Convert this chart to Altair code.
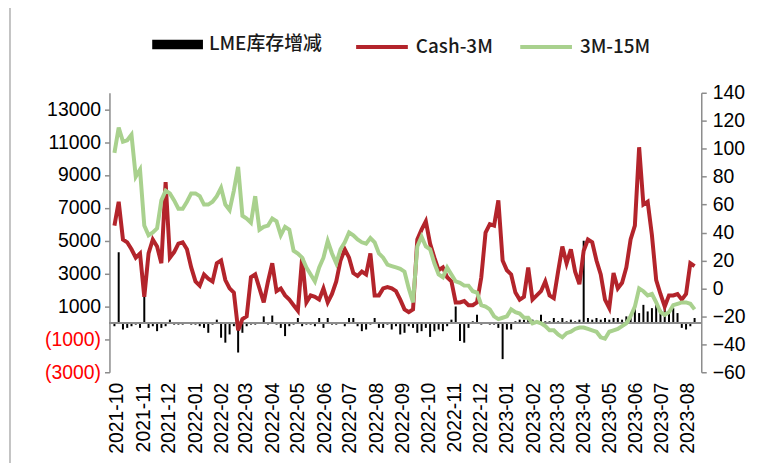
import altair as alt
import pandas as pd

# ---- data (5-day sampling) ----
start_date = "2021-09-28"
cash_3m = [45, 62, 35, 33, 28, 22, 25, -6, 25, 35,
           30, 18, 76, 22, 26, 32, 33, 28, 15, 5,
           2, 10, 7, 5, 18, 20, 6, 0, -3, -30,
           -22, -20, 8, 10, 0, -10, 5, 18, -2, 0,
           -5, -8, -12, -16, 22, -10, -5, -6, -8, 0,
           -10, -4, 5, 20, 28, 22, 11, 9, 12, 10,
           25, -5, -5, 0, 1, 0, -2, -8, -15, -17,
           -15, 35, 42, 48, 32, 22, 13, 15, 8, 5,
           -10, -10, -9, -12, -12, -10, 8, 40, 46, 45,
           63, 20, 13, 10, -3, -8, -6, 15, -8, -5,
           -2, 5, -5, -7, 12, 30, 18, 28, 12, 3,
           27, 35, 33, 20, 10, -8, -14, 11, 0, 4,
           15, 35, 45, 101, 60, 62, 38, 6, -4, -13,
           -5, -5, -4, -8, -4, 18, 16]
m3_15m = [97, 115, 105, 106, 110, 80, 85, 45, 38, 40,
          43, 63, 70, 68, 63, 57, 57, 62, 68, 68,
          66, 60, 60, 62, 66, 72, 60, 56, 70, 87,
          52, 50, 47, 66, 42, 44, 45, 50, 48, 38,
          44, 42, 27, 25, 22, 15, 10, 5, 15, 22,
          34, 25, 18, 28, 33, 40, 38, 35, 33, 32,
          36, 33, 25, 22, 17, 16, 15, 14, 12, 0,
          -10, 30, 37, 30, 28, 18, 10, 8, 15, 10,
          5, 4, 2, 2, -2, -3, -12, -13, -15, -20,
          -22, -21, -20, -15, -17, -18, -21, -21, -25, -24,
          -25, -27, -30, -30, -33, -35, -32, -31, -29, -28,
          -28, -29, -30, -31, -35, -36, -31, -30, -29, -27,
          -25, -20, -13, 0, -2, -5, -4, -10, -17, -19,
          -17, -12, -11, -10, -10, -11, -15]
lme_stock_change = [-200, 4300, -400, -300, -200, -100, -300, 2600, -300, -200,
                    -500, -300, -200, 200, -100, -100, -100, 0, -100, -100,
                    -200, -300, -600, -100, 200, -900, -1200, -700, -200, -1800,
                    -600, -200, -100, -100, 0, 400, -100, 450, -100, -300,
                    -800, -200, -100, 300, -200, -100, -100, -200, 300, -300,
                    300, -100, -100, 0, -200, 300, 300, -200, -500, -400,
                    -100, 300, -300, -300, -100, -400, -200, -700, -600, -200,
                    -300, -600, -500, -300, -850, -500, -400, -500, -200, 200,
                    1000, -1100, -1200, -300, 100, 500, -100, 0, -100, -100,
                    -300, -2200, -400, -400, 100, 200, 200, 300, 200, 100,
                    500, 100, 100, 300, 100, 300, 100, 200, 100, 200,
                    5000, 300, 200, 300, 200, 300, 200, 300, 300, 200,
                    400, 300, 900, 600, 1100, 700, 900, 1200, 800, 1000,
                    700, 900, 600, -300, -400, -200, 300]

series_names = ["LME库存增减", "Cash-3M", "3M-15M"]
series_colors = ["#000000", "#B3242B", "#A9D18E"]
left_ticks = [-3000, -1000, 1000, 3000, 5000, 7000, 9000, 11000, 13000]
right_ticks = [-60, -40, -20, 0, 20, 40, 60, 80, 100, 120, 140]
month_ticks = [(2021, m) for m in (10, 11, 12)] + [(2022, m) for m in range(1, 13)] + \
              [(2023, m) for m in range(1, 9)]

dates = pd.date_range(start_date, periods=len(cash_3m), freq="5D").strftime("%Y-%m-%d")
bars_df = pd.DataFrame({"date": dates, "value": lme_stock_change, "series": series_names[0]})
lines_df = pd.concat([
    pd.DataFrame({"date": dates, "value": cash_3m, "series": series_names[1]}),
    pd.DataFrame({"date": dates, "value": m3_15m, "series": series_names[2]}),
])

FONT = "Liberation Sans"
AX = "#8C8C8C"
TICK_FS = 19.5
LEG_FS = 19

xscale = alt.Scale(type="utc",
                   domain=[alt.DateTime(year=2021, month=9, date=28, utc=True),
                           alt.DateTime(year=2023, month=8, date=11, utc=True)])
xaxis = alt.Axis(title=None,
                 values=[alt.DateTime(year=y, month=m, date=1, utc=True) for y, m in month_ticks],
                 labelExpr="utcFormat(datum.value, '%Y-%m')",
                 labelAngle=270, labelAlign="right", labelBaseline="middle",
                 labelFont=FONT, labelFontSize=TICK_FS, labelColor="#000000",
                 labelPadding=10, domain=False, ticks=False, grid=False, labelOverlap=False)
x = alt.X("date:T", scale=xscale, axis=xaxis)

left_axis = alt.Axis(title=None, values=left_ticks, grid=False, labelOverlap=False,
                     labelExpr="datum.value < 0 ? '(' + format(abs(datum.value), 'd') + ')' : format(datum.value, 'd')",
                     labelColor={"condition": {"test": "datum.value < 0", "value": "#FF0000"}, "value": "#000000"},
                     labelFont=FONT, labelFontSize=TICK_FS, domainColor=AX, tickColor=AX, tickSize=5,
                     domainWidth=1.5, tickWidth=1.5, labelPadding=4)
right_axis = alt.Axis(title=None, orient="right", values=right_ticks, grid=False, labelOverlap=False,
                      labelFont=FONT, labelFontSize=TICK_FS, labelColor="#000000",
                      domainColor=AX, tickColor=AX, tickSize=5, domainWidth=1.5, tickWidth=1.5,
                      labelPadding=6)
left_scale = alt.Scale(domain=[-3000, 14000], nice=False, zero=False)

bar_color = alt.Color("series:N",
                      scale=alt.Scale(domain=series_names[:1], range=series_colors[:1]),
                      legend=alt.Legend(orient="none", legendX=43, legendY=-74, title=None,
                                        symbolType="M-1,-0.19L1,-0.19L1,0.19L-1,0.19Z",
                                        symbolSize=2601, labelFont="Noto Sans CJK SC",
                                        labelFontSize=LEG_FS, labelFontWeight=500,
                                        labelColor="#1A1A1A", labelOffset=6,
                                        padding=0, symbolStrokeWidth=0))
line_color = alt.Color("series:N",
                       scale=alt.Scale(domain=series_names[1:], range=series_colors[1:]),
                       legend=alt.Legend(orient="none", legendX=246, legendY=-74, title=None,
                                         direction="horizontal", symbolType="stroke",
                                         symbolSize=2704, symbolStrokeWidth=4,
                                         labelFont="Noto Sans CJK SC", labelFontSize=LEG_FS,
                                         labelFontWeight=500,
                                         labelColor="#1A1A1A", labelOffset=6, columnPadding=19,
                                         padding=0))

bars = alt.Chart(bars_df).mark_bar(size=2).encode(
    x=x,
    y=alt.Y("value:Q", scale=left_scale, axis=left_axis),
    color=bar_color,
)
zero_rule = alt.Chart(bars_df).mark_rule(color=AX, strokeWidth=1.5).encode(
    y=alt.Y(datum=0, scale=left_scale, axis=left_axis))
# chart-area border line on the left edge (decoration)
frame = alt.Chart(pd.DataFrame({"k": [0]})).mark_rule(color="#B0B0B0", strokeWidth=1.5).encode(
    x=alt.value(-100), y=alt.value(-92), y2=alt.value(380))
left_layer = alt.layer(bars, zero_rule, frame)

lines = alt.Chart(lines_df).mark_line(strokeWidth=4, interpolate="linear").encode(
    x=x,
    y=alt.Y("value:Q", scale=alt.Scale(domain=[-60, 140], nice=False, zero=False), axis=right_axis),
    color=line_color,
    detail="series:N",
)

chart = alt.layer(left_layer, lines).resolve_scale(y="independent", color="independent").properties(
    width=595, height=281,
    autosize=alt.AutoSizeParams(type="none"),
    padding={"left": 102, "top": 84, "right": 50, "bottom": 90},
).configure_view(strokeWidth=0).configure_axis(labelOverlap=False)

chart.save("out.html", embed_options={"renderer": "svg", "actions": False})
